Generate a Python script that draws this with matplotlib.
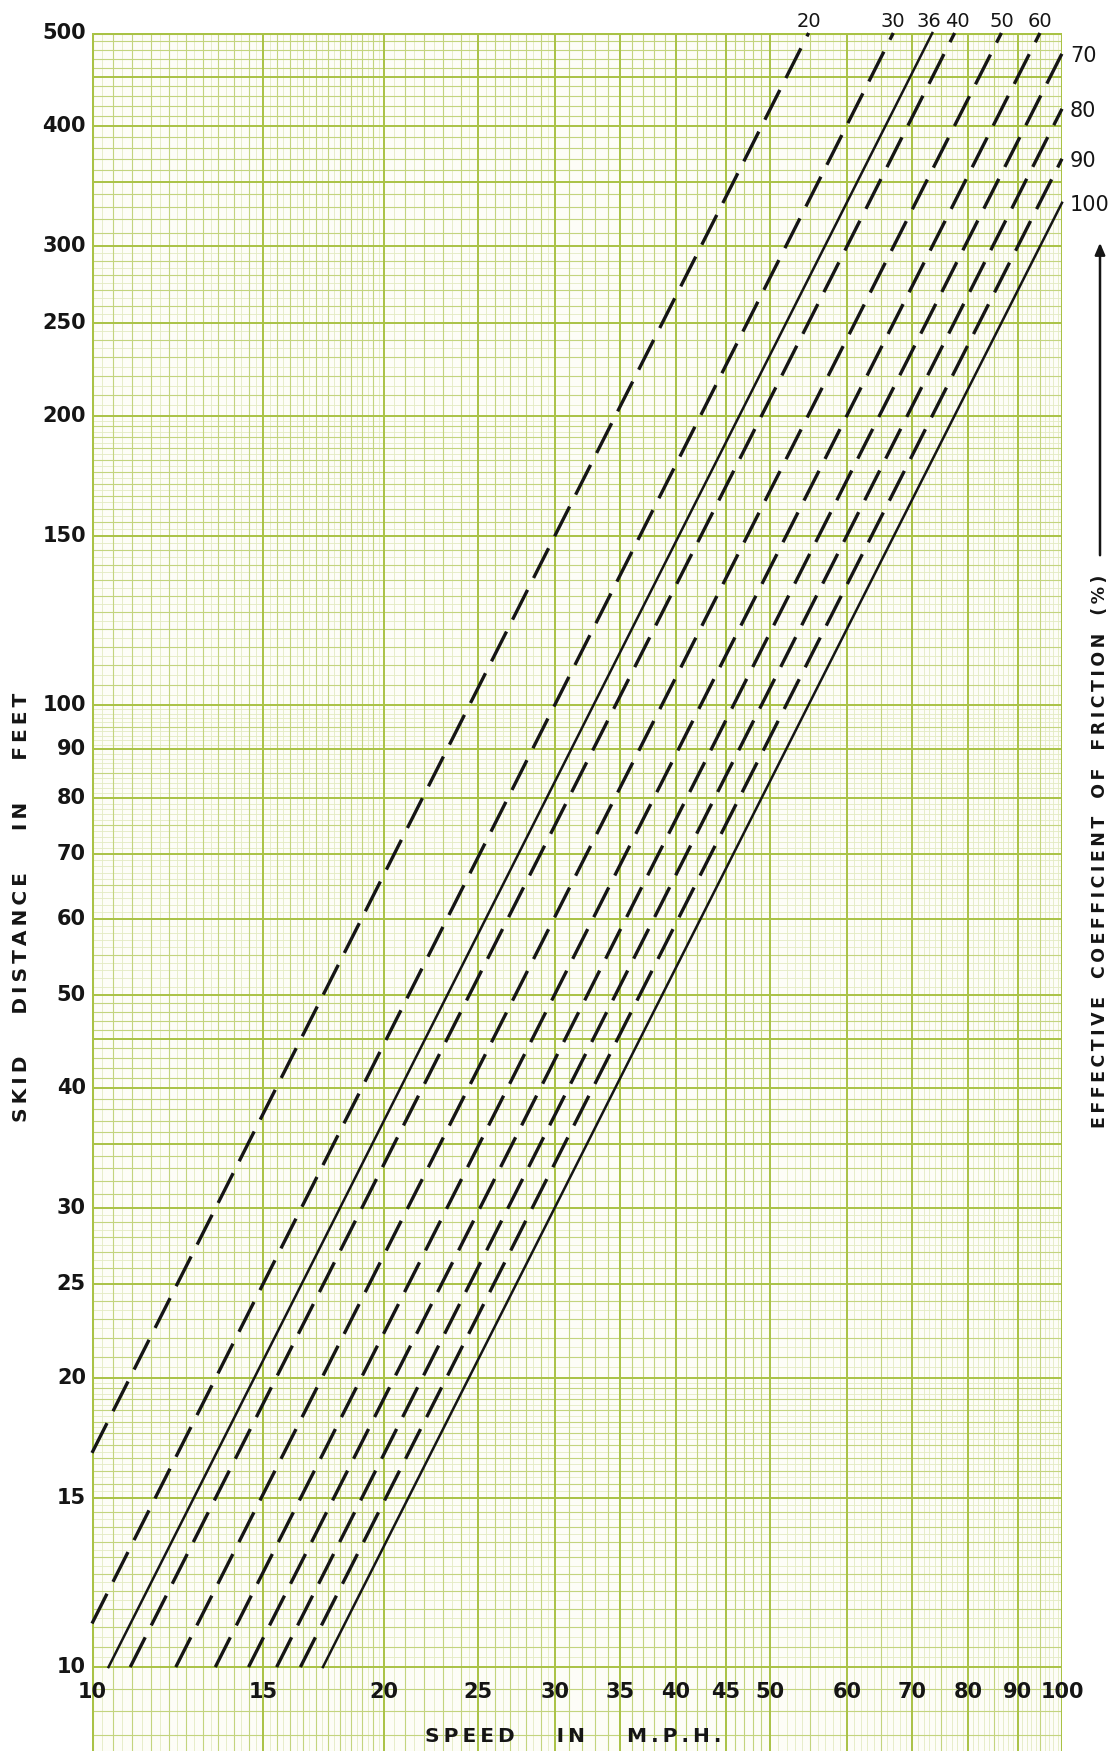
import numpy as np
import matplotlib
matplotlib.use("Agg")
import matplotlib.pyplot as plt
from matplotlib.patches import FancyArrowPatch

# curves: friction (%) with start and end points of each line
friction = [20, 30, 36, 40, 50, 60, 70, 80, 90, 100]
start_speed = [10, 10, 10.4, 10.95, 12.2, 13.4, 14.5, 15.5, 16.4, 17.3]
start_dist = [16.7, 11.1, 10, 10, 10, 10, 10, 10, 10, 10]
end_speed = [54.8, 67.0, 73.5, 77.5, 86.6, 94.9, 100, 100, 100, 100]
end_dist = [500, 500, 500, 500, 500, 500, 476, 417, 370, 333]
solid = [36, 100]

speed_ticks = [10, 15, 20, 25, 30, 35, 40, 45, 50, 60, 70, 80, 90, 100]
dist_ticks = [10, 15, 20, 25, 30, 40, 50, 60, 70, 80, 90, 100, 150, 200, 250, 300, 400, 500]

W, H = 1113, 1751
PAPER = "#fdfdf7"
HEAVY = "#a9c245"
MED = "#c3d47e"
LIGHT = "#e3ebc2"
INK = "#151515"

# graph paper rulings per mantissa range: (from, to, heavy step, medium step, light step)
segs = [(1, 2, 0.5, 0.05, 0.025), (2, 3, 0.5, 0.1, 0.05), (3, 5, 0.5, 0.1, None), (5, 10, 1, 0.5, 0.1)]


def paper(lo, hi):
    out = {"heavy": set(), "medium": set(), "light": set()}
    for base in (10, 100):
        for a, b, hs, ms, ls in segs:
            fine = ls if ls else ms
            n = int(round((b - a) / fine))
            for k in range(n + 1):
                m = round(a + k * fine, 6)
                v = round(base * m, 6)
                if v < lo - 1e-9 or v > hi + 1e-9:
                    continue
                if abs(m / hs - round(m / hs)) < 1e-6:
                    out["heavy"].add(v)
                elif abs(m / ms - round(m / ms)) < 1e-6:
                    out["medium"].add(v)
                else:
                    out["light"].add(v)
    out["medium"] -= out["heavy"]
    out["light"] -= out["heavy"] | out["medium"]
    return out


fig = plt.figure(figsize=(W / 100, H / 100), dpi=100)
fig.patch.set_facecolor("white")
ax = fig.add_axes([92 / W, 0, 970 / W, 1718 / H])
ax.set_xscale("log")
ax.set_yscale("log")
ylo = 8.18
ax.set_xlim(10, 100)
ax.set_ylim(ylo, 500)
ax.set_facecolor(PAPER)
for s in ax.spines.values():
    s.set_visible(False)
ax.xaxis.set_major_locator(matplotlib.ticker.NullLocator())
ax.xaxis.set_minor_locator(matplotlib.ticker.NullLocator())
ax.yaxis.set_major_locator(matplotlib.ticker.NullLocator())
ax.yaxis.set_minor_locator(matplotlib.ticker.NullLocator())

gx = paper(10, 100)
gy = paper(10, 500)
gy["medium"] |= set(np.arange(8.5, 10, 0.5))

styles = [("light", LIGHT, 0.6), ("medium", MED, 0.8), ("heavy", HEAVY, 1.4)]
for key, col, lw in styles:
    ax.vlines(sorted(gx[key]), ylo, 500, color=col, lw=lw, zorder=1)
    ax.hlines(sorted(gy[key]), 10, 100, color=col, lw=lw, zorder=1)
# paper border
ax.vlines([10, 100], ylo, 500, color=HEAVY, lw=2.2, zorder=1.5)
ax.hlines([500], 10, 100, color=HEAVY, lw=2.2, zorder=1.5)

num = dict(fontsize=15, fontweight="bold", color=INK)
nudge = {36: -3, 40: 3}
for i, f in enumerate(friction):
    if f in solid:
        ax.plot([start_speed[i], end_speed[i]], [start_dist[i], end_dist[i]],
                color=INK, lw=1.8, zorder=3, clip_on=False)
    else:
        ax.plot([start_speed[i], end_speed[i]], [start_dist[i], end_dist[i]],
                color=INK, lw=2.4, ls=(0, (10, 4)), zorder=3, clip_on=False)
    if end_dist[i] >= 500:
        ax.annotate(str(f), (end_speed[i], end_dist[i]), xytext=(nudge.get(f, 0), 12),
                    textcoords="offset pixels", ha="center", va="center",
                    annotation_clip=False, fontsize=14, color=INK)
    else:
        ax.annotate(str(f), (end_speed[i], end_dist[i]), xytext=(8, -2),
                    textcoords="offset pixels", ha="left", va="center",
                    annotation_clip=False, fontsize=15, color=INK)

for v in dist_ticks:
    ax.annotate(str(v), (10, v), xytext=(-6, 0), textcoords="offset pixels",
                ha="right", va="center", annotation_clip=False, **num)
for v in speed_ticks:
    ax.annotate(str(v), (v, 10), xytext=(0, -25), textcoords="offset pixels",
                ha="center", va="center", zorder=4, **num)


def spaced(txt, gap="   "):
    return gap.join("\u2009".join(w) for w in txt.split())


lab = dict(fontsize=14.5, fontweight="bold", color=INK)
fig.text(573 / W, 1 - 1736 / H, spaced("SPEED IN M.P.H.", "      "), ha="center", va="center", **lab)
fig.text(22 / W, 1 - 907 / H, spaced("SKID DISTANCE IN FEET", "      "), ha="center", va="center",
         rotation=90, **lab)
fig.text(1100 / W, 1 - 1128 / H, spaced("EFFECTIVE COEFFICIENT OF FRICTION (%)", "   "),
         ha="center", va="bottom", rotation=90, fontsize=12.5, fontweight="bold", color=INK)
fig.add_artist(FancyArrowPatch((1100 / W, 1 - 558 / H), (1100 / W, 1 - 240 / H),
                               transform=fig.transFigure, arrowstyle="-|>,head_length=7,head_width=3",
                               color=INK, lw=1.8))

fig.savefig("out.png", dpi=100, facecolor="white")
